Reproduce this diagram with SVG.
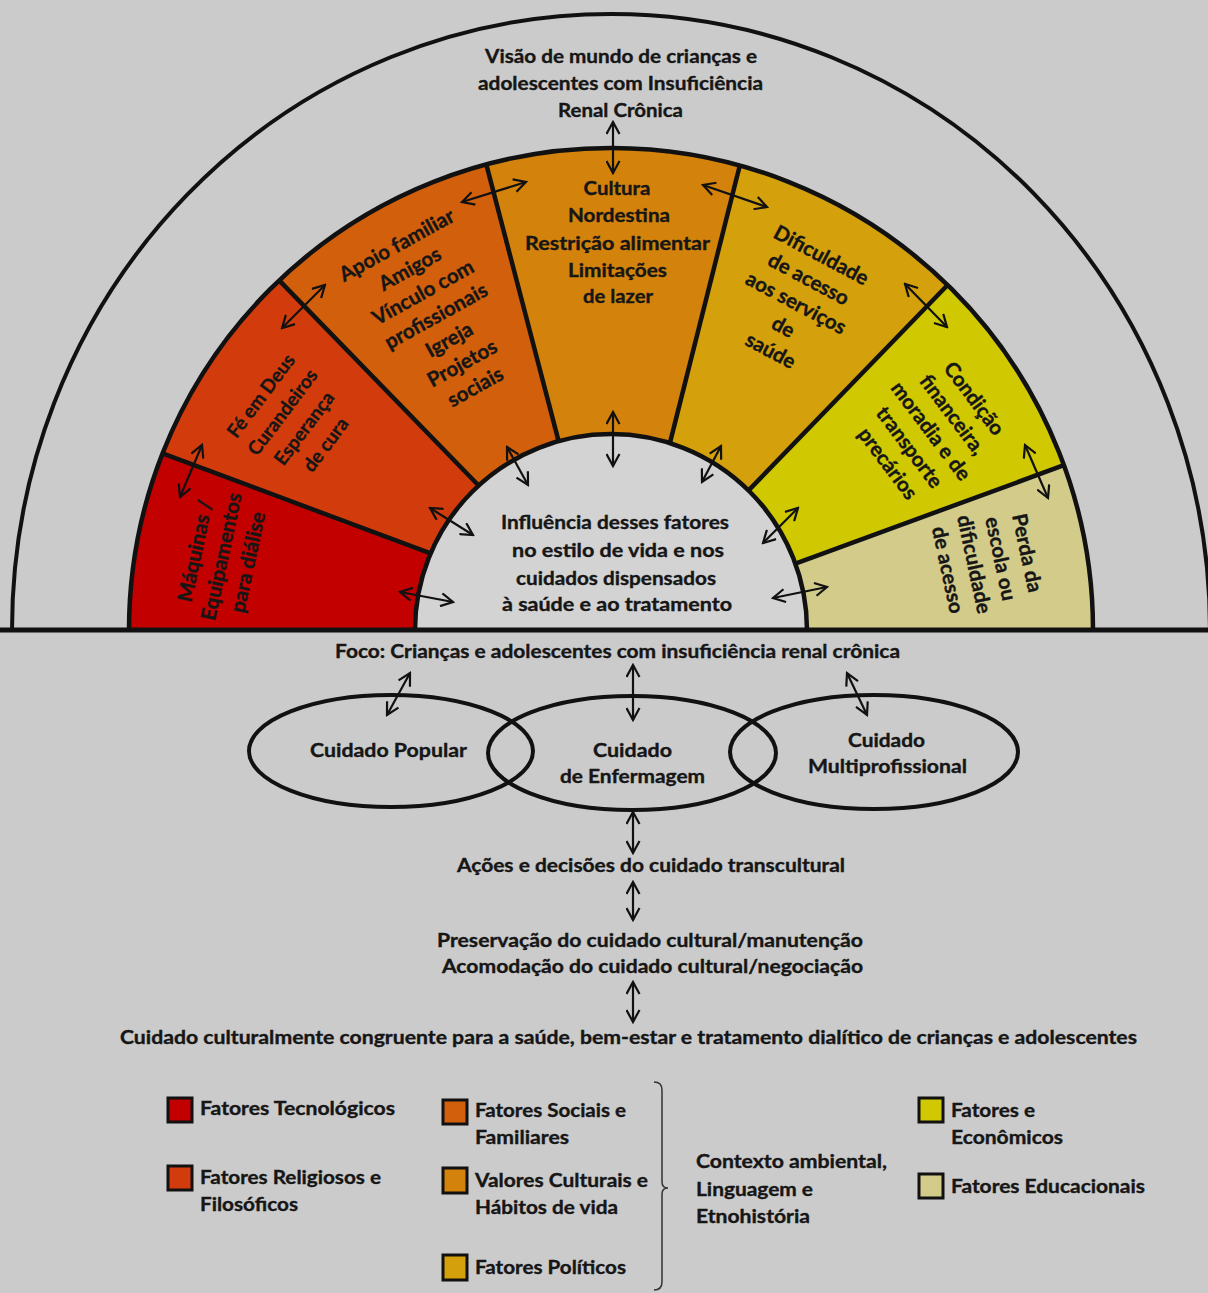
<svg xmlns="http://www.w3.org/2000/svg" width="1208" height="1293" viewBox="0 0 1208 1293">
<style>
.t{font-family:Lato,"Liberation Sans",sans-serif;font-weight:700;font-size:18px;fill:#161616;stroke:#161616;stroke-width:0.35}
.r{font-size:20.5px}
.c{text-anchor:middle}
.ln{stroke:#111;fill:none}
.ar{stroke:#111;stroke-width:2.2;fill:none;marker-start:url(#ah);marker-end:url(#ah)}
.sq{stroke:#111;stroke-width:3}
</style>
<defs>
<marker id="ah" viewBox="-1 -1 15 15" refX="12" refY="6.5" markerWidth="15" markerHeight="15" markerUnits="userSpaceOnUse" orient="auto-start-reverse">
<path d="M0,0 L12,6.5 L0,13" fill="none" stroke="#111" stroke-width="2.2"/>
</marker>
</defs>
<rect x="0" y="0" width="1208" height="1293" fill="#cbcbcb"/>

<g id="outer-arc">
<path d="M12,630 A599,616 0 0 1 1210,630" fill="#cfcfcf" class="ln" stroke-width="4"/>
</g>

<g id="band">
<path id="s-maquinas" d="M129,630 A482,482 0 0 1 162.5,453.3 L430.6,553.4 A196,196 0 0 0 415,630 Z" fill="#c20000"/>
<path id="s-fe" d="M162.5,453.3 A482,482 0 0 1 279.2,280.4 L478.6,485.5 A196,196 0 0 0 430.6,553.4 Z" fill="#d23c0c"/>
<path id="s-apoio" d="M279.2,280.4 A482,482 0 0 1 486.3,164.4 L558.6,441.1 A196,196 0 0 0 478.6,485.5 Z" fill="#d25f0c"/>
<path id="s-cultura" d="M486.3,164.4 A482,482 0 0 1 739.8,165.5 L669.9,443.1 A196,196 0 0 0 558.6,441.1 Z" fill="#d3820b"/>
<path id="s-dificuldade" d="M739.8,165.5 A482,482 0 0 1 947.6,285 L748.6,490.4 A196,196 0 0 0 669.9,443.1 Z" fill="#d4a00b"/>
<path id="s-condicao" d="M947.6,285 A482,482 0 0 1 1063.9,465.2 L795.4,563.6 A196,196 0 0 0 748.6,490.4 Z" fill="#d0c800"/>
<path id="s-perda" d="M1063.9,465.2 A482,482 0 0 1 1093,630 L807,630 A196,196 0 0 0 795.4,563.6 Z" fill="#d2cb8a"/>
<path d="M415,630 A196,196 0 0 1 807,630 Z" fill="#d3d3d3"/>
<g class="ln" stroke-width="4.5">
<path d="M129,630 A482,482 0 0 1 1093,630"/>
<path d="M415,630 A196,196 0 0 1 807,630"/>
<line x1="162.5" y1="453.3" x2="430.6" y2="553.4"/>
<line x1="279.2" y1="280.4" x2="478.6" y2="485.5"/>
<line x1="486.3" y1="164.4" x2="558.6" y2="441.1"/>
<line x1="739.8" y1="165.5" x2="669.9" y2="443.1"/>
<line x1="947.6" y1="285" x2="748.6" y2="490.4"/>
<line x1="1063.9" y1="465.2" x2="795.4" y2="563.6"/>
</g>
</g>

<line x1="0" y1="630" x2="1208" y2="630" class="ln" stroke-width="5"/>

<g id="title">
<text class="t c" x="621" y="63" textLength="272" lengthAdjust="spacingAndGlyphs">Visão de mundo de crianças e</text>
<text class="t c" x="620.5" y="90" textLength="285" lengthAdjust="spacingAndGlyphs">adolescentes com Insuficiência</text>
<text class="t c" x="620.5" y="117" textLength="125" lengthAdjust="spacingAndGlyphs">Renal Crônica</text>
</g>

<g id="node-maquinas" transform="translate(221.5,556.5) rotate(-78)">
<text class="t r c" x="0" y="-20">Máquinas /</text>
<text class="t r c" x="0" y="7">Equipamentos</text>
<text class="t r c" x="0" y="34">para diálise</text>
</g>

<g id="node-fe" transform="translate(293,420) rotate(-53)">
<text class="t r c" x="0" y="-33.5" style="font-size:19px">Fé em Deus</text>
<text class="t r c" x="0" y="-6.5" style="font-size:19px">Curandeiros</text>
<text class="t r c" x="0" y="20.5" style="font-size:19px">Esperança</text>
<text class="t r c" x="0" y="47.5" style="font-size:19px">de cura</text>
</g>

<g id="node-apoio" transform="translate(436,316) rotate(-29)">
<text class="t r c" x="0" y="-74">Apoio familiar</text>
<text class="t r c" x="0" y="-47">Amigos</text>
<text class="t r c" x="0" y="-20">Vínculo com</text>
<text class="t r c" x="0" y="7">profissionais</text>
<text class="t r c" x="0" y="34">Igreja</text>
<text class="t r c" x="0" y="61">Projetos</text>
<text class="t r c" x="0" y="88">sociais</text>
</g>

<g id="node-cultura">
<text class="t c" x="617" y="195" textLength="67" lengthAdjust="spacingAndGlyphs">Cultura</text>
<text class="t c" x="619" y="222" textLength="102" lengthAdjust="spacingAndGlyphs">Nordestina</text>
<text class="t c" x="617.5" y="250" textLength="185" lengthAdjust="spacingAndGlyphs">Restrição  alimentar</text>
<text class="t c" x="617.5" y="277" textLength="99" lengthAdjust="spacingAndGlyphs">Limitações</text>
<text class="t c" x="618" y="303" textLength="70" lengthAdjust="spacingAndGlyphs">de lazer</text>
</g>

<g id="node-dificuldade" transform="translate(796,303) rotate(28)">
<text class="t r c" x="0" y="-47">Dificuldade</text>
<text class="t r c" x="0" y="-20">de acesso</text>
<text class="t r c" x="0" y="7">aos serviços</text>
<text class="t r c" x="0" y="34">de</text>
<text class="t r c" x="0" y="61">saúde</text>
</g>

<g id="node-condicao" transform="translate(931,431) rotate(53)">
<text class="t r c" x="0" y="-47">Condição</text>
<text class="t r c" x="0" y="-20">financeira,</text>
<text class="t r c" x="0" y="7">moradia e de</text>
<text class="t r c" x="0" y="34">transporte</text>
<text class="t r c" x="0" y="61">precários</text>
</g>

<g id="node-perda" transform="translate(987.5,561.5) rotate(78)">
<text class="t r c" x="0" y="-33.5">Perda da</text>
<text class="t r c" x="0" y="-6.5">escola ou</text>
<text class="t r c" x="0" y="20.5">dificuldade</text>
<text class="t r c" x="0" y="47.5">de acesso</text>
</g>

<g id="node-influencia">
<text class="t c" x="615" y="529" textLength="228" lengthAdjust="spacingAndGlyphs">Influência desses fatores</text>
<text class="t c" x="618" y="557" textLength="212" lengthAdjust="spacingAndGlyphs">no estilo de vida e  nos</text>
<text class="t c" x="616" y="585" textLength="200" lengthAdjust="spacingAndGlyphs">cuidados dispensados</text>
<text class="t c" x="617" y="611" textLength="230" lengthAdjust="spacingAndGlyphs">à saúde e ao tratamento</text>
</g>

<g id="node-foco">
<text class="t c" x="617.5" y="658" textLength="565" lengthAdjust="spacingAndGlyphs">Foco: Crianças e adolescentes com insuficiência renal crônica</text>
</g>

<g id="node-popular">
<ellipse cx="391" cy="751" rx="142" ry="56" class="ln" stroke-width="4"/>
<text class="t c" x="388.5" y="757" textLength="157" lengthAdjust="spacingAndGlyphs">Cuidado Popular</text>
</g>
<g id="node-enfermagem">
<ellipse cx="632" cy="753" rx="144" ry="57" class="ln" stroke-width="4"/>
<text class="t c" x="632.5" y="757" textLength="79" lengthAdjust="spacingAndGlyphs">Cuidado</text>
<text class="t c" x="632.5" y="783" textLength="145" lengthAdjust="spacingAndGlyphs">de Enfermagem</text>
</g>
<g id="node-multi">
<ellipse cx="874" cy="752" rx="144" ry="57" class="ln" stroke-width="4"/>
<text class="t c" x="886.5" y="747" textLength="77" lengthAdjust="spacingAndGlyphs">Cuidado</text>
<text class="t c" x="887.5" y="773" textLength="159" lengthAdjust="spacingAndGlyphs">Multiprofissional</text>
</g>

<g id="node-acoes">
<text class="t c" x="651" y="872" textLength="388" lengthAdjust="spacingAndGlyphs">Ações e decisões do cuidado transcultural</text>
</g>
<g id="node-preservacao">
<text class="t c" x="650" y="947" textLength="426" lengthAdjust="spacingAndGlyphs">Preservação do cuidado cultural/manutenção</text>
<text class="t c" x="652.5" y="973" textLength="421" lengthAdjust="spacingAndGlyphs">Acomodação do cuidado cultural/negociação</text>
</g>
<g id="node-congruente">
<text class="t c" x="628.5" y="1044" textLength="1017" lengthAdjust="spacingAndGlyphs">Cuidado culturalmente congruente para a saúde, bem-estar e tratamento dialítico de crianças e adolescentes</text>
</g>

<g id="connectors">
<line class="ar" x1="613" y1="122" x2="613" y2="173"/>
<line class="ar" x1="613" y1="412" x2="613" y2="466"/>
<line class="ar" x1="462" y1="202" x2="526" y2="182"/>
<line class="ar" x1="703" y1="185" x2="767" y2="207"/>
<line class="ar" x1="325" y1="285" x2="282" y2="328"/>
<line class="ar" x1="202" y1="445" x2="180" y2="497"/>
<line class="ar" x1="905" y1="284" x2="947" y2="327"/>
<line class="ar" x1="1025" y1="445" x2="1048" y2="498"/>
<line class="ar" x1="430" y1="508" x2="473" y2="535"/>
<line class="ar" x1="400" y1="592" x2="453" y2="602"/>
<line class="ar" x1="507" y1="447" x2="528" y2="485"/>
<line class="ar" x1="721" y1="446" x2="702" y2="482"/>
<line class="ar" x1="798" y1="508" x2="763" y2="543"/>
<line class="ar" x1="827" y1="587" x2="773" y2="598"/>
<line class="ar" x1="410" y1="673" x2="387" y2="715"/>
<line class="ar" x1="633" y1="665" x2="633" y2="720"/>
<line class="ar" x1="847" y1="673" x2="867" y2="715"/>
<line class="ar" x1="633" y1="812" x2="633" y2="853"/>
<line class="ar" x1="633" y1="882" x2="633" y2="920"/>
<line class="ar" x1="633" y1="982" x2="633" y2="1022"/>
</g>

<g id="legend">
<rect class="sq" x="168" y="1098" width="24" height="24" fill="#c20000"/>
<text class="t" x="200" y="1115" textLength="195" lengthAdjust="spacingAndGlyphs">Fatores Tecnológicos</text>
<rect class="sq" x="168" y="1166" width="24" height="24" fill="#d23c0c"/>
<text class="t" x="200" y="1184" textLength="181" lengthAdjust="spacingAndGlyphs">Fatores Religiosos e</text>
<text class="t" x="200" y="1211" textLength="98" lengthAdjust="spacingAndGlyphs">Filosóficos</text>
<rect class="sq" x="443" y="1100" width="24" height="24" fill="#d25f0c"/>
<text class="t" x="475" y="1117" textLength="151" lengthAdjust="spacingAndGlyphs">Fatores Sociais e</text>
<text class="t" x="475" y="1144" textLength="94" lengthAdjust="spacingAndGlyphs">Familiares</text>
<rect class="sq" x="443" y="1168" width="24" height="25" fill="#d3820b"/>
<text class="t" x="475" y="1187" textLength="173" lengthAdjust="spacingAndGlyphs">Valores Culturais e</text>
<text class="t" x="475" y="1214" textLength="143" lengthAdjust="spacingAndGlyphs">Hábitos de vida</text>
<rect class="sq" x="443" y="1255" width="24" height="25" fill="#d4a00b"/>
<text class="t" x="475" y="1274" textLength="151" lengthAdjust="spacingAndGlyphs">Fatores Políticos</text>
<path d="M654,1082 Q662,1082 662,1090 L662,1182 Q662,1188 668,1188 Q662,1188 662,1194 L662,1282 Q662,1290 654,1290" fill="none" stroke="#333" stroke-width="1.5"/>
<text class="t" x="696" y="1168" textLength="191" lengthAdjust="spacingAndGlyphs">Contexto ambiental,</text>
<text class="t" x="696" y="1196" textLength="117" lengthAdjust="spacingAndGlyphs">Linguagem e</text>
<text class="t" x="696" y="1223" textLength="114" lengthAdjust="spacingAndGlyphs">Etnohistória</text>
<rect class="sq" x="919" y="1098" width="24" height="24" fill="#d0c800"/>
<text class="t" x="951" y="1117" textLength="84" lengthAdjust="spacingAndGlyphs">Fatores e</text>
<text class="t" x="951" y="1144" textLength="112" lengthAdjust="spacingAndGlyphs">Econômicos</text>
<rect class="sq" x="919" y="1174" width="24" height="24" fill="#d2cb8a"/>
<text class="t" x="951" y="1193" textLength="194" lengthAdjust="spacingAndGlyphs">Fatores Educacionais</text>
</g>
</svg>
